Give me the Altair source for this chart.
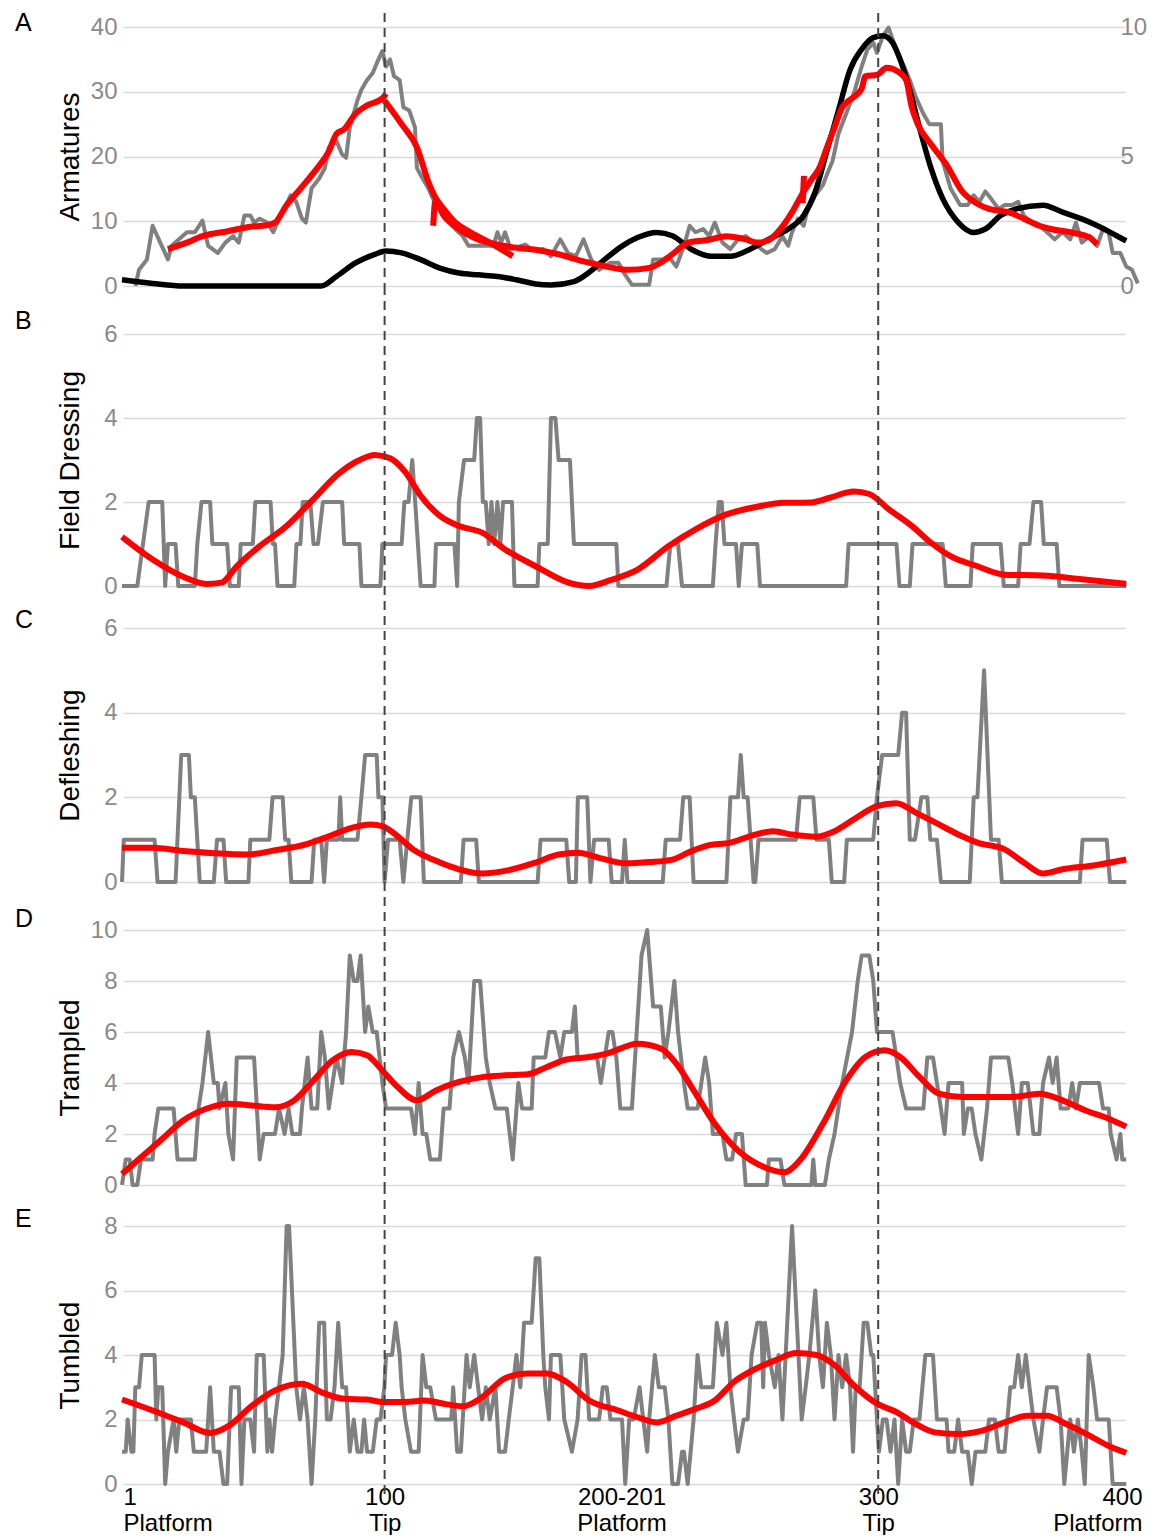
import altair as alt
import pandas as pd

# ---------------- data ----------------
X_DOMAIN = [-6, 400]
TIP_POSITIONS = [100, 300]
X_TICKS = [-6, 100, 196, 300, 400]
X_TICK_NUM = ["1", "100", "200-201", "300", "400"]
X_TICK_ZONE = ["Platform", "Tip", "Platform", "Tip", "Platform"]

A_GRAY = [(-1.0, 0.0), (0.5, 2.5), (3.7, 4.1), (6.0, 9.3), (9.1, 6.7), (12.2, 4.1), (13.7, 6.2), (19.9, 8.3),
          (23.1, 8.3), (26.2, 10.1), (28.5, 6.2), (32.4, 5.1), (35.5, 6.7), (38.6, 7.7), (40.9, 6.7), (43.2, 10.9),
          (45.6, 10.9), (47.1, 9.8), (49.4, 10.4), (52.5, 9.8), (54.9, 8.3), (57.2, 10.4), (59.5, 11.9), (61.9, 14.0),
          (64.2, 13.0), (66.5, 10.4), (68.1, 9.8), (70.4, 15.1), (73.5, 16.6), (75.8, 18.2), (77.4, 21.4), (80.5, 22.4),
          (82.8, 20.3), (84.4, 19.8), (85.9, 24.5), (89.0, 28.7), (90.6, 30.3), (92.9, 31.8), (95.2, 32.9), (97.5, 35.0),
          (99.1, 36.3), (100.6, 33.9), (102.2, 35.0), (103.8, 32.4), (106.1, 31.8), (107.6, 27.6), (110.0, 27.1),
          (112.3, 24.5), (113.1, 18.2), (115.4, 16.6), (117.7, 15.1), (120.2, 13.0), (122.4, 12.5), (123.9, 10.9),
          (126.3, 9.8), (128.6, 8.8), (131.7, 7.7), (134.0, 6.2), (137.1, 6.2), (144.1, 6.2), (145.7, 8.3), (147.2, 6.7),
          (148.8, 8.3), (151.1, 5.7), (157.0, 6.4), (160.0, 5.5), (164.3, 5.7), (167.4, 4.6), (171.2, 7.2), (174.3, 5.1),
          (177.5, 4.6), (180.6, 7.2), (183.7, 4.1), (186.9, 2.5), (191.5, 3.6), (194.7, 3.6), (197.0, 2.0), (200.2, 0.2),
          (207.2, 0.2), (208.8, 4.1), (212.7, 4.1), (215.0, 4.6), (218.2, 3.0), (221.3, 6.2), (223.6, 9.3), (226.0, 8.3),
          (229.1, 8.8), (231.5, 7.7), (233.8, 9.8), (236.9, 6.7), (240.1, 5.7), (243.2, 7.2), (246.3, 7.7), (249.5, 6.7),
          (252.6, 5.7), (254.9, 5.1), (258.1, 5.7), (261.2, 7.7), (263.5, 6.2), (265.1, 8.3), (267.4, 10.4), (269.8, 9.3),
          (271.4, 11.9), (274.5, 14.0), (277.6, 15.6), (279.2, 17.2), (281.5, 19.3), (283.9, 23.5), (287.0, 26.6),
          (290.1, 29.7), (293.3, 33.9), (295.6, 36.5), (298.0, 37.6), (299.5, 36.0), (301.9, 38.6), (304.2, 39.9),
          (307.4, 36.5), (310.5, 33.9), (312.8, 31.8), (315.2, 29.2), (318.3, 26.6), (320.7, 25.0), (325.4, 25.0),
          (326.1, 19.3), (329.3, 15.1), (333.2, 12.5), (336.3, 12.5), (338.7, 14.0), (341.0, 13.0), (343.4, 14.6),
          (345.7, 13.5), (348.8, 11.9), (351.2, 12.5), (354.3, 12.5), (356.7, 13.0), (359.0, 10.9), (362.1, 9.8),
          (365.3, 9.3), (368.4, 8.3), (371.5, 7.2), (374.7, 8.3), (377.8, 7.2), (380.1, 9.8), (382.5, 6.7), (385.6, 7.7),
          (388.7, 6.2), (391.1, 8.8), (393.4, 8.3), (395.0, 5.1), (398.1, 5.1), (400.5, 3.0), (402.8, 2.5), (405.2, 0.4)]

A_RED_1 = [(12.2, 5.7), (19.9, 6.7), (26.2, 7.7), (37.0, 8.5), (44.8, 9.1), (52.5, 9.4), (55.6, 9.8), (60.3, 12.5),
           (66.5, 15.3), (72.7, 18.2), (77.4, 20.8), (80.5, 23.5), (83.6, 24.2), (88.2, 26.6), (92.9, 27.9), (99.1, 29.0),
           (100.6, 29.7)]
A_RED_2 = [(99.9, 28.7), (106.9, 25.0), (113.1, 21.4), (117.7, 16.1), (120.8, 13.5), (123.9, 11.9), (128.6, 9.8),
           (134.8, 8.3), (142.6, 6.7), (151.9, 4.6)]
A_RED_3 = [(119.7, 9.3), (120.5, 13.0), (123.9, 10.9), (130.1, 8.8), (137.9, 7.2), (145.7, 6.4), (153.4, 5.9),
           (161.2, 5.6), (170.5, 4.9), (180.6, 3.8), (190.0, 3.0), (198.6, 2.5), (207.2, 2.8), (211.9, 3.6), (218.2, 5.4),
           (222.8, 6.7), (230.7, 7.1), (238.5, 7.7), (246.3, 7.2), (251.0, 6.7), (255.7, 7.1), (260.4, 8.8), (265.1, 11.4),
           (269.8, 14.6), (272.9, 16.4), (276.1, 18.2), (279.2, 21.4), (282.3, 24.5), (285.4, 27.6), (290.1, 29.2),
           (293.3, 30.5), (294.8, 32.4), (299.5, 32.6), (303.4, 33.7), (308.1, 33.1), (311.3, 31.8), (313.6, 27.6),
           (316.0, 25.0), (321.4, 21.9), (327.7, 18.7), (334.0, 14.6), (340.2, 12.7), (344.9, 11.9), (352.7, 11.4),
           (359.0, 10.4), (365.3, 9.3), (369.9, 8.8), (377.8, 8.3), (385.6, 7.5), (388.7, 6.4)]
A_RED_4 = [(269.4, 12.8), (269.9, 17.0)]

A_BLACK = [(-6.4, 0.24), (6.0, 0.10), (18.4, 0.0), (37.0, 0.0), (74.3, 0.0), (80.5, 0.37), (88.2, 0.89), (96.0, 1.22),
           (100.6, 1.35), (106.9, 1.28), (114.6, 1.02), (122.4, 0.69), (130.1, 0.50), (137.9, 0.43), (145.7, 0.37),
           (153.4, 0.24), (161.2, 0.08), (167.4, 0.04), (176.7, 0.17), (180.6, 0.37), (188.4, 0.96), (196.2, 1.54),
           (202.5, 1.87), (210.3, 2.07), (216.6, 1.94), (224.4, 1.41), (232.2, 1.15), (240.1, 1.15), (247.9, 1.41),
           (255.7, 1.81), (263.5, 2.20), (269.8, 2.72), (274.5, 3.64), (279.2, 5.21), (283.9, 6.78), (288.6, 8.35),
           (293.3, 9.14), (298.0, 9.59), (301.9, 9.66), (305.8, 9.40), (308.9, 8.74), (312.8, 7.57), (316.7, 6.13),
           (321.4, 4.55), (326.1, 3.38), (332.4, 2.46), (338.7, 2.07), (343.4, 2.20), (349.6, 2.72), (355.9, 2.98),
           (366.8, 3.12), (374.7, 2.85), (382.5, 2.59), (390.3, 2.26), (396.6, 1.94), (400.5, 1.74)]

B_GRAY = [(-6.4, 0), (-0.2, 0), (2.1, 1), (4.4, 2), (9.9, 2), (11.1, 0), (12.2, 1), (15.3, 1), (16.4, 0), (23.1, 0),
          (24.1, 1), (25.8, 2), (29.3, 2), (30.2, 1), (36.2, 1), (37.3, 0), (40.9, 0), (41.7, 1), (46.6, 1), (47.6, 2),
          (53.8, 2), (54.7, 1), (55.6, 1), (56.6, 0), (63.4, 0), (64.3, 1), (65.9, 1), (66.8, 2), (69.9, 2), (71.2, 1),
          (73.0, 1), (75.0, 2), (82.8, 2), (83.6, 1), (89.8, 1), (90.6, 0), (98.3, 0), (99.1, 1), (106.9, 1), (108.0, 2),
          (109.7, 2), (111.2, 3), (112.4, 2), (114.6, 0), (120.2, 0), (120.8, 1), (128.3, 1), (129.4, 0), (130.1, 2),
          (132.2, 3), (136.3, 3), (137.4, 4), (138.7, 4), (139.8, 2), (141.0, 2), (142.2, 1), (143.3, 2), (144.4, 1),
          (145.7, 2), (146.9, 1), (148.0, 2), (151.6, 2), (152.6, 0), (162.0, 0), (162.7, 1), (166.1, 1), (167.4, 4),
          (169.2, 4), (170.5, 3), (175.1, 3), (176.7, 1), (193.9, 1), (194.7, 0), (214.2, 0), (215.8, 1), (218.9, 1),
          (220.5, 0), (233.0, 0), (234.1, 1), (235.4, 2), (236.6, 2), (237.7, 1), (242.4, 1), (243.5, 0), (244.8, 1),
          (251.0, 1), (252.1, 0), (287.0, 0), (288.0, 1), (307.4, 1), (308.6, 0), (312.8, 0), (313.9, 1), (326.1, 1),
          (327.4, 0), (337.4, 0), (338.3, 1), (349.6, 1), (350.9, 0), (356.7, 0), (357.7, 1), (361.3, 1), (362.9, 2),
          (366.0, 2), (367.1, 1), (372.3, 1), (373.4, 0), (400.5, 0)]
B_RED = [(-6.4, 1.17), (6.0, 0.63), (18.4, 0.22), (27.7, 0.05), (33.9, 0.08), (40.1, 0.47), (49.4, 0.95), (60.3, 1.43),
         (71.2, 2.07), (80.5, 2.63), (89.8, 3.0), (96.0, 3.12), (102.2, 3.04), (108.4, 2.71), (114.6, 2.15),
         (122.4, 1.67), (130.1, 1.43), (139.5, 1.27), (148.8, 0.87), (161.2, 0.47), (173.6, 0.10), (182.9, 0.0),
         (191.5, 0.14), (202.5, 0.39), (215.0, 0.95), (226.0, 1.35), (236.9, 1.67), (249.5, 1.87), (262.0, 1.98),
         (272.9, 1.99), (280.8, 2.11), (290.1, 2.25), (296.4, 2.19), (304.2, 1.83), (313.6, 1.43), (321.4, 1.03),
         (329.3, 0.71), (340.2, 0.47), (351.2, 0.27), (366.8, 0.25), (382.5, 0.16), (400.5, 0.05)]

C_GRAY = [(-6.4, 0), (-5.7, 1), (6.8, 1), (8.0, 0), (15.3, 0), (17.6, 3), (20.7, 3), (21.5, 2), (23.1, 2), (25.1, 0),
          (30.8, 0), (32.1, 1), (34.7, 1), (35.8, 0), (44.8, 0), (45.6, 1), (53.3, 1), (54.6, 2), (58.7, 2), (59.7, 1),
          (61.1, 1), (62.2, 0), (70.4, 0), (71.5, 1), (74.3, 1), (75.5, 0), (76.6, 1), (81.3, 1), (82.0, 2), (82.8, 1),
          (89.0, 1), (90.6, 2), (92.1, 3), (96.8, 3), (97.5, 2), (99.1, 2), (100.0, 0), (101.4, 1), (106.1, 1),
          (107.6, 0), (110.8, 2), (114.6, 2), (115.9, 0), (130.9, 0), (132.0, 1), (137.1, 1), (138.2, 0), (162.0, 0),
          (163.2, 1), (173.6, 1), (174.8, 0), (177.5, 0), (178.3, 2), (182.1, 2), (183.4, 0), (184.9, 1), (190.8, 1),
          (192.0, 0), (196.2, 0), (197.3, 1), (198.4, 0), (212.7, 0), (213.9, 1), (219.7, 1), (221.0, 2), (223.6, 2),
          (225.2, 0), (238.5, 0), (240.1, 2), (243.2, 2), (244.3, 3), (245.5, 2), (247.1, 2), (249.5, 0), (250.2, 0),
          (251.5, 1), (266.7, 1), (268.2, 2), (273.7, 2), (275.0, 1), (280.0, 1), (281.2, 0), (286.2, 0), (287.3, 1),
          (298.0, 1), (299.5, 2), (301.6, 3), (308.1, 3), (309.7, 4), (311.3, 4), (312.8, 1), (314.9, 1), (317.5, 2),
          (319.9, 2), (321.1, 1), (323.8, 1), (325.4, 0), (337.1, 0), (338.7, 2), (340.2, 2), (342.9, 5), (345.7, 1),
          (348.8, 1), (350.1, 0), (381.7, 0), (382.8, 1), (392.6, 1), (393.9, 0), (400.5, 0)]
C_RED = [(-6.4, 0.81), (6.0, 0.81), (18.4, 0.73), (30.8, 0.68), (44.8, 0.65), (55.6, 0.75), (68.1, 0.89), (77.4, 1.08),
         (86.7, 1.28), (94.4, 1.36), (99.1, 1.32), (105.3, 1.08), (111.5, 0.77), (120.8, 0.50), (130.1, 0.30),
         (139.5, 0.20), (150.3, 0.28), (161.2, 0.46), (170.5, 0.65), (178.3, 0.69), (186.9, 0.57), (197.8, 0.44),
         (207.2, 0.47), (216.6, 0.53), (222.8, 0.69), (230.7, 0.86), (240.1, 0.93), (247.9, 1.08), (257.3, 1.20),
         (265.1, 1.12), (274.5, 1.07), (282.3, 1.20), (290.1, 1.48), (299.5, 1.79), (307.4, 1.86), (315.2, 1.64),
         (324.6, 1.36), (334.0, 1.08), (340.2, 0.93), (351.2, 0.77), (359.0, 0.46), (366.8, 0.20), (374.7, 0.30),
         (387.2, 0.39), (400.5, 0.53)]

D_GRAY = [(-6.4, 0), (-4.9, 1), (-3.3, 1), (-2.1, 0), (-0.2, 0), (1.3, 1), (6.0, 1), (6.8, 2), (8.3, 3), (14.5, 3),
          (16.1, 1), (23.1, 1), (24.6, 3), (26.2, 4), (28.5, 6), (30.8, 4), (32.4, 4), (33.1, 3), (35.5, 4), (36.7, 2),
          (38.6, 1), (40.1, 5), (47.1, 5), (49.4, 1), (51.0, 2), (55.6, 2), (57.2, 3), (59.5, 2), (61.1, 3), (62.6, 2),
          (65.7, 2), (66.5, 3), (68.8, 5), (70.4, 3), (72.7, 3), (74.3, 6), (75.8, 5), (77.4, 3), (78.9, 4), (80.5, 5),
          (82.8, 4), (84.4, 6), (85.9, 9), (87.5, 8), (89.0, 8), (90.3, 9), (92.1, 6), (93.4, 7), (95.2, 6), (96.8, 6),
          (99.1, 4), (100.6, 3), (110.7, 3), (112.3, 2), (113.8, 4), (115.4, 2), (116.9, 2), (118.5, 1), (122.4, 1),
          (123.9, 3), (126.3, 3), (127.8, 5), (130.1, 6), (132.5, 5), (134.0, 4), (136.3, 8), (138.7, 8), (141.0, 5),
          (142.6, 4), (144.9, 3), (149.5, 3), (151.9, 1), (154.2, 4), (155.7, 3), (159.6, 3), (160.4, 5), (165.1, 5),
          (166.6, 6), (169.0, 6), (171.2, 5), (172.8, 6), (175.9, 6), (177.1, 7), (178.2, 5), (186.1, 5), (187.6, 4),
          (189.2, 5), (190.8, 6), (192.3, 6), (193.9, 5), (195.5, 3), (200.2, 3), (204.1, 9), (206.4, 10), (208.0, 8),
          (208.8, 7), (211.9, 7), (213.5, 5), (215.0, 6), (217.4, 8), (218.9, 6), (221.3, 4), (222.8, 3), (226.8, 3),
          (229.9, 5), (231.5, 4), (233.0, 2), (236.9, 2), (238.5, 1), (240.8, 1), (242.4, 2), (244.8, 2), (246.3, 0),
          (254.9, 0), (255.7, 1), (260.4, 1), (262.0, 0), (272.9, 0), (273.7, 1), (274.5, 0), (278.4, 0), (280.0, 1),
          (282.3, 2), (285.4, 4), (289.4, 6), (291.7, 8), (293.3, 9), (296.4, 9), (298.0, 8), (299.5, 6), (305.8, 6),
          (307.4, 5), (308.9, 4), (311.3, 3), (318.3, 3), (319.9, 5), (322.2, 5), (323.8, 4), (325.4, 3), (326.9, 2),
          (328.5, 4), (334.0, 4), (334.7, 2), (336.3, 3), (337.9, 3), (339.4, 2), (341.8, 1), (344.1, 3), (345.7, 5),
          (352.7, 5), (354.3, 4), (356.7, 2), (358.2, 4), (360.6, 4), (362.9, 2), (365.3, 2), (366.8, 4), (369.2, 5),
          (370.7, 4), (372.3, 5), (373.9, 3), (377.0, 3), (378.6, 4), (380.1, 3), (381.7, 4), (389.5, 4), (391.1, 3),
          (393.4, 3), (394.2, 2), (396.6, 1), (398.1, 2), (398.9, 1), (400.5, 1)]
D_RED = [(-6.4, 0.43), (-0.2, 0.96), (9.1, 1.74), (18.4, 2.53), (27.7, 2.99), (37.0, 3.19), (46.3, 3.12), (55.6, 3.05),
         (63.4, 3.32), (71.2, 4.10), (78.9, 4.89), (86.7, 5.22), (92.9, 5.09), (99.1, 4.49), (105.3, 3.84),
         (113.1, 3.32), (120.8, 3.71), (130.1, 4.04), (139.5, 4.23), (148.8, 4.30), (158.0, 4.34), (165.8, 4.63),
         (173.6, 4.92), (182.9, 5.02), (190.0, 5.15), (202.5, 5.54), (211.9, 5.35), (218.2, 4.76), (224.4, 3.84),
         (233.8, 2.40), (243.2, 1.35), (254.1, 0.69), (262.0, 0.50), (268.2, 0.96), (277.6, 2.40), (287.0, 4.10),
         (294.8, 5.02), (302.7, 5.28), (308.9, 5.02), (316.8, 4.23), (324.6, 3.58), (334.0, 3.45), (343.4, 3.45),
         (354.3, 3.45), (365.3, 3.58), (374.7, 3.32), (384.0, 2.92), (393.4, 2.60), (400.5, 2.29)]

E_GRAY = [(-6.4, 1), (-4.9, 1), (-4.1, 2), (-2.6, 1), (-1.8, 1), (-1.0, 3), (0.5, 3), (1.6, 4), (6.8, 4), (7.5, 2),
          (8.3, 3), (9.9, 3), (11.1, 0), (12.2, 1), (14.5, 2), (15.6, 1), (16.8, 2), (21.5, 2), (22.7, 1), (27.7, 1),
          (29.3, 3), (30.8, 1), (33.1, 1), (34.7, 0), (36.2, 0), (37.8, 3), (40.9, 3), (42.0, 0), (43.2, 2), (45.6, 2),
          (47.1, 1), (48.2, 4), (51.0, 4), (52.5, 1), (53.3, 2), (54.4, 1), (55.6, 2), (57.2, 3), (58.7, 4), (60.3, 8),
          (61.3, 8), (64.2, 3), (65.7, 2), (67.3, 3), (68.8, 2), (70.4, 0), (71.9, 2), (73.5, 5), (75.5, 5), (76.6, 2),
          (78.1, 2), (79.7, 3), (81.2, 5), (82.8, 3), (84.4, 3), (85.9, 1), (87.5, 2), (89.0, 1), (90.6, 1), (91.7, 2),
          (92.9, 1), (95.2, 1), (96.8, 2), (98.3, 2), (99.9, 3), (100.6, 4), (103.0, 4), (104.5, 5), (106.1, 4),
          (106.9, 3), (108.4, 2), (110.7, 1), (113.8, 1), (115.4, 4), (116.9, 3), (118.5, 3), (120.8, 2), (127.0, 2),
          (127.8, 3), (129.4, 1), (130.9, 1), (133.2, 4), (134.5, 3), (136.3, 4), (137.9, 3), (139.5, 2), (141.0, 3),
          (142.6, 2), (144.9, 3), (146.4, 1), (148.8, 1), (150.3, 2), (151.9, 3), (153.4, 4), (155.0, 3), (156.5, 5),
          (159.6, 5), (161.2, 7), (162.7, 7), (164.3, 4), (165.1, 3), (166.6, 2), (167.4, 4), (171.2, 4), (172.8, 2),
          (175.9, 1), (178.2, 2), (179.8, 4), (181.4, 4), (182.9, 2), (186.9, 2), (188.4, 3), (190.0, 3), (191.5, 2),
          (196.2, 2), (197.5, 0), (199.1, 2), (200.9, 2), (203.3, 3), (204.8, 2), (206.4, 1), (207.2, 2), (209.5, 4),
          (211.1, 3), (213.5, 3), (215.0, 2), (216.6, 0), (218.9, 0), (220.5, 1), (221.3, 1), (222.8, 0), (225.2, 2),
          (226.8, 4), (228.3, 3), (233.0, 3), (234.6, 5), (236.9, 4), (238.5, 5), (240.1, 3), (241.6, 2), (243.2, 1),
          (245.5, 2), (247.1, 2), (248.7, 4), (251.0, 5), (252.6, 5), (253.4, 3), (254.1, 5), (255.7, 4), (258.1, 3),
          (259.6, 4), (261.2, 2), (265.1, 8), (269.0, 2), (270.6, 3), (272.1, 4), (274.5, 6), (276.1, 4), (277.6, 3),
          (279.2, 5), (280.8, 4), (282.3, 2), (283.9, 4), (285.4, 3), (287.0, 4), (288.6, 3), (289.8, 1), (290.9, 3),
          (292.5, 3), (294.1, 5), (295.6, 5), (297.2, 4), (298.0, 4), (299.5, 2), (300.3, 1), (301.9, 2), (303.4, 2),
          (305.0, 1), (306.6, 2), (308.1, 0), (309.7, 2), (311.3, 1), (312.8, 1), (314.4, 2), (316.7, 2), (319.1, 4),
          (322.2, 4), (323.8, 2), (327.7, 2), (328.5, 1), (330.8, 1), (332.4, 2), (334.0, 1), (336.3, 1), (337.9, 0),
          (339.4, 1), (343.4, 1), (344.9, 2), (347.3, 2), (348.8, 1), (351.2, 1), (353.5, 3), (355.1, 3), (356.7, 4),
          (358.2, 3), (359.8, 4), (361.3, 3), (362.9, 2), (365.3, 1), (366.8, 2), (368.4, 3), (372.3, 3), (373.9, 2),
          (375.4, 0), (377.8, 2), (379.3, 1), (380.9, 2), (382.5, 1), (383.7, 0), (385.3, 4), (387.2, 3), (388.7, 2),
          (393.4, 2), (395.0, 0), (400.5, 0)]
E_RED = [(-6.4, 2.62), (6.0, 2.28), (18.4, 1.91), (29.3, 1.58), (37.0, 1.81), (46.3, 2.43), (55.6, 2.90), (66.5, 3.11),
         (74.3, 2.85), (83.6, 2.64), (92.9, 2.62), (99.1, 2.54), (108.4, 2.54), (116.2, 2.59), (123.9, 2.49),
         (131.7, 2.41), (139.5, 2.69), (148.8, 3.28), (158.1, 3.43), (165.8, 3.43), (173.6, 3.17), (182.9, 2.59),
         (194.7, 2.28), (202.5, 2.07), (210.3, 1.91), (218.2, 2.12), (226.0, 2.33), (233.8, 2.59), (241.6, 3.17),
         (249.5, 3.54), (258.8, 3.85), (266.7, 4.06), (274.5, 4.01), (282.3, 3.69), (290.1, 3.06), (299.5, 2.49),
         (307.4, 2.23), (315.2, 1.86), (323.0, 1.60), (332.4, 1.55), (341.8, 1.65), (351.2, 1.91), (360.6, 2.12),
         (368.4, 2.12), (376.2, 1.86), (385.6, 1.50), (393.4, 1.18), (400.5, 0.97)]

# ---------------- styling ----------------
FONT = "Liberation Sans"
GRAY = "#808080"
RED = "#ff0000"
BLACK = "#000000"
TICK_GRAY = "#8a8a8a"
GRID = "#d9d9d9"
W = 1002
SPACING = 45
X_SCALE = alt.Scale(domain=X_DOMAIN, nice=False, zero=False)


def frame(pairs, seg="s"):
    return pd.DataFrame({
        "x": [p[0] for p in pairs],
        "y": [p[1] for p in pairs],
        "i": list(range(len(pairs))),
        "seg": [seg] * len(pairs),
    })


def left_axis(values, height, shift):
    return alt.Axis(values=values, orient="left", grid=True, gridColor=GRID, gridWidth=1.5,
                    domain=False, ticks=False, labelFont=FONT, labelFontSize=24, labelColor=TICK_GRAY,
                    labelPadding=6, titleFont=FONT, titleFontSize=28, titleFontWeight="normal",
                    titleColor=BLACK, titleAngle=-90, titleAlign="center", titleBaseline="middle",
                    titleX=-53, titleY=(height + shift) / 2)


def bottom_axis():
    expr = ""
    for v, a, b in zip(X_TICKS, X_TICK_NUM, X_TICK_ZONE):
        expr += f"datum.value == {v} ? ['{a}', '{b}'] : "
    expr += "''"
    return alt.Axis(values=X_TICKS, labelExpr=expr, grid=False, domain=False, ticks=False,
                    labelFont=FONT, labelFontSize=24, labelColor=BLACK, labelPadding=1,
                    labelLineHeight=26, labelBaseline="top", labelOverlap=False, labelFlush=False,
                    labelAlign={"condition": [{"test": "datum.value < 0", "value": "left"},
                                              {"test": "datum.value >= 400", "value": "right"}],
                                "value": "center"},
                    labelOffset={"condition": {"test": "datum.value >= 400", "value": 17}, "value": 0})


def yscale(domain, height, shift):
    return alt.Scale(domain=domain, nice=False, zero=False, range=[height, shift])


def line(df, color, width, scale, axis=None, title=None, interp="linear", xaxis=None):
    return alt.Chart(df).mark_line(color=color, strokeWidth=width, strokeJoin="round",
                                   interpolate=interp).encode(
        x=alt.X("x:Q", scale=X_SCALE, axis=xaxis, title=None),
        y=alt.Y("y:Q", scale=scale, axis=axis, title=title),
        detail="seg:N",
        order="i:Q",
    )


def rules(top, bottom, xaxis=None):
    return alt.Chart(pd.DataFrame({"x": TIP_POSITIONS})).mark_rule(
        color="#444444", strokeWidth=2, strokeDash=[9, 6]).encode(
        x=alt.X("x:Q", scale=X_SCALE, axis=xaxis, title=None), y=alt.value(top), y2=alt.value(bottom))


def letter(t, y):
    return alt.Chart(pd.DataFrame({"t": [t]})).mark_text(
        align="left", baseline="alphabetic", font=FONT, fontSize=25, color=BLACK).encode(
        text="t:N", x=alt.value(-108), y=alt.value(y))


def panel(letter_t, letter_dy, gray, red_frames, domain, ticks, title, height, shift, rule_top, rule_bottom,
          xaxis=None, share_axis=True):
    sc = yscale(domain, height, shift)
    ax = left_axis(ticks, height, shift)
    layers = [line(frame(gray), GRAY, 4, sc, axis=ax, title=title, xaxis=xaxis)]
    for f in red_frames:
        if share_axis:
            layers.append(line(f, RED, 6, sc, axis=ax, title=title, interp="monotone", xaxis=xaxis))
        else:
            layers.append(line(f, RED, 6, sc, interp="monotone"))
    layers.append(rules(rule_top, rule_bottom, xaxis=xaxis))
    layers.append(letter(letter_t, shift + letter_dy))
    return layers


# panel heights / shift of the top gridline inside each panel (matching the reference rows)
HA, SA = 259, 0
HB, SB = 255, 3
HC, SC = 251, -3
HD, SD = 258, 3
HE, SE = 254, -4

red_a = pd.concat([frame(A_RED_1, "a"), frame(A_RED_2, "b"), frame(A_RED_3, "c"), frame(A_RED_4, "d")])
layers_a = panel("A", 3.5, A_GRAY, [red_a], [0, 40], [0, 10, 20, 30, 40], "Armatures", HA, SA, -14, HA,
                 share_axis=False)
black_a = alt.Chart(frame(A_BLACK)).mark_line(color=BLACK, strokeWidth=5.5, interpolate="monotone").encode(
    x=alt.X("x:Q", scale=X_SCALE, axis=None),
    y=alt.Y("y2:Q", scale=alt.Scale(domain=[0, 10], nice=False, zero=False), title=None,
            axis=alt.Axis(values=[0, 5, 10], orient="right", grid=False, domain=False, ticks=False,
                          labelFont=FONT, labelFontSize=24, labelColor=TICK_GRAY, labelPadding=-5)),
    order="i:Q",
).transform_calculate(y2="datum.y")
pA = alt.layer(layers_a[0], black_a, *layers_a[1:]).resolve_scale(y="independent").properties(width=W, height=HA)

pB = alt.layer(*panel("B", -5, B_GRAY, [frame(B_RED)], [0, 6], [0, 2, 4, 6], "Field Dressing", HB, SB,
                      -SPACING, HB)).properties(width=W, height=HB)
pC = alt.layer(*panel("C", 0, C_GRAY, [frame(C_RED)], [0, 6], [0, 2, 4, 6], "Defleshing", HC, SC,
                      -SPACING, HC)).properties(width=W, height=HC)
pD = alt.layer(*panel("D", -3, D_GRAY, [frame(D_RED)], [0, 10], [0, 2, 4, 6, 8, 10], "Trampled", HD, SD,
                      -SPACING, HD)).properties(width=W, height=HD)
pE = alt.layer(*panel("E", 1, E_GRAY, [frame(E_RED)], [0, 8], [0, 2, 4, 6, 8], "Tumbled", HE, SE,
                      -SPACING, HE + 10, xaxis=bottom_axis())).properties(width=W, height=HE)

chart = alt.vconcat(pA, pB, pC, pD, pE, spacing=SPACING, bounds="flush").properties(
    padding={"left": 7, "top": 2, "right": 5, "bottom": 0}
).configure_view(stroke=None)

chart.save("out.html", embed_options={"renderer": "svg", "actions": False})
